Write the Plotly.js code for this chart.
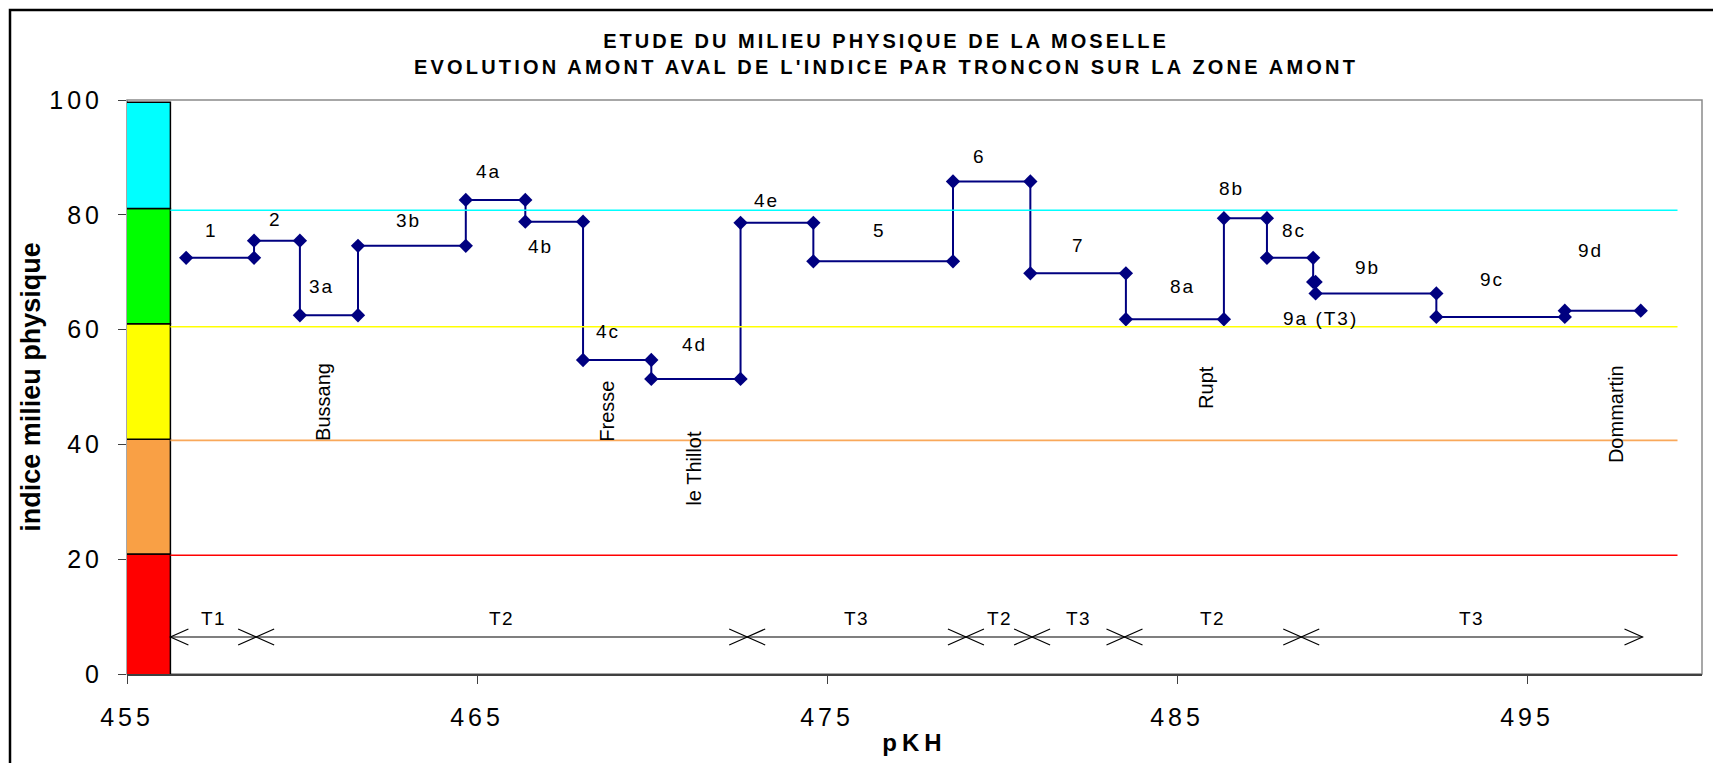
<!DOCTYPE html>
<html><head><meta charset="utf-8">
<script src="https://cdn.plot.ly/plotly-3.0.1.min.js"></script>
<style>html,body{margin:0;padding:0;background:#fff;}#chart{width:1713px;height:763px;}</style>
</head><body><div id="chart"></div>
<script>
// ---------------- DATA ----------------
const reaches = ['1','2','3a','3b','4a','4b','4c','4d','4e','5','6','7','8a','8b','8c','9a (T3)','9b','9c','9d'];
const pkStart = [456.69, 458.63, 459.94, 461.60, 464.68, 466.38, 468.03, 469.98, 472.53, 474.61, 478.60, 480.81, 483.54, 486.34, 487.57, 488.89, 488.96, 492.41, 496.08];
const pkEnd   = [458.63, 459.94, 461.60, 464.68, 466.38, 468.03, 469.98, 472.53, 474.61, 478.60, 480.81, 483.54, 486.34, 487.57, 488.89, 488.96, 492.41, 496.08, 498.25];
const indice  = [72.5, 75.5, 62.5, 74.6, 82.6, 78.8, 54.7, 51.4, 78.6, 71.9, 85.8, 69.8, 61.8, 79.4, 72.5, 68.3, 66.3, 62.2, 63.3];

const towns  = ['Bussang','Fresse','le Thillot','Rupt','Dommartin'];
const townPk = [460.6, 468.73, 471.19, 485.81, 497.53];

const troncons    = ['T1','T2','T3','T2','T3','T2','T3'];
const troncBounds = [456.24, 458.69, 472.72, 478.97, 480.86, 483.50, 488.55, 498.30];

const classLow  = [-0.9, 20.9, 40.9, 61.0, 81.1];
const classHigh = [20.9, 40.9, 61.0, 81.1, 99.6];
const classColors = ['#FF0000','#F9A045','#FFFF00','#00FF00','#00FFFF'];

const thresholdLevels = [80.8, 60.5, 40.7, 20.7];
const thresholdColors = ['#00FFFF','#FFFF00','#F9A85A','#FF0000'];

const xTicks = [455, 465, 475, 485, 495];
const yTicks = [0, 20, 40, 60, 80, 100];

// ---------------- STYLE / LAYOUT ----------------
const FONT = 'Liberation Sans, Arial, sans-serif';
const W = 1713, H = 763;
const M = {l:127, r:11, t:100, b:89};
const plotW = W - M.l - M.r, plotH = H - M.t - M.b;
const pxX = px => (px - M.l) / plotW;          // pixel -> paper
const pxY = py => (H - M.b - py) / plotH;
const ls = (t, s) => `<span style="letter-spacing:${s}px">${t}</span>`;

// label offsets (px) relative to the reach mid-point / value
const labelDx = [-9,-1,-7,-3,-7,-14,-9,-1,-10,-4,-12,0,8,-14,4,6,-8,-9,-12];
const labelDy = [27,21,29,25,28,-25,29,34,22,31,25,28,33,30,27,-37,26,37,60];
const townLabelY = [47.4, 45.8, 35.9, 49.9, 45.2];
const barX0 = 454.93, barX1 = 456.24;
const lineX0 = 456.24, lineX1 = 499.3;
const arrowY = 6.45;

// ---------------- TRACES ----------------
const traces = [];

// colour scale bar
traces.push({
  type:'bar',
  x: classLow.map(() => (barX0 + barX1) / 2),
  y: classLow.map((lo, i) => classHigh[i] - lo),
  base: classLow,
  width: classLow.map(() => barX1 - barX0),
  marker:{color: classColors, line:{color:'#000', width:1.5}},
  cliponaxis:false, hoverinfo:'skip', showlegend:false
});

// step line
const sx = [], sy = [];
reaches.forEach((r, i) => { sx.push(pkStart[i], pkEnd[i]); sy.push(indice[i], indice[i]); });
traces.push({
  type:'scatter', mode:'lines+markers', x:sx, y:sy,
  line:{color:'#000080', width:2},
  marker:{symbol:'diamond', size:11, color:'#000080'},
  hoverinfo:'skip', showlegend:false
});

// threshold lines
thresholdLevels.forEach((lv, i) => {
  traces.push({type:'scatter', mode:'lines', x:[lineX0, lineX1], y:[lv, lv],
    line:{color: thresholdColors[i], width:1.6}, hoverinfo:'skip', showlegend:false});
});

// troncon line
traces.push({type:'scatter', mode:'lines', x:[troncBounds[0], troncBounds[troncBounds.length-1]], y:[arrowY, arrowY],
  line:{color:'#000', width:1.2}, hoverinfo:'skip', showlegend:false});

// ---------------- SHAPES ----------------
const shapes = [];
shapes.push({type:'rect', xref:'paper', yref:'paper', x0:0, x1:1, y0:0, y1:1, layer:'below',
  line:{color:'#8a8a8a', width:1.5}});
shapes.push({type:'path', xref:'paper', yref:'paper',
  path:`M${pxX(10)},${pxY(780)} L${pxX(10)},${pxY(10)} L${pxX(1730)},${pxY(10)}`,
  line:{color:'#000', width:2.5}});
const headLen = 18, headHalf = 8;
function head(x, s){
  return {type:'path', xref:'x', yref:'y', xsizemode:'pixel', ysizemode:'pixel', xanchor:x, yanchor:arrowY,
    path:`M${s*headLen},${headHalf} L0,0 L${s*headLen},${-headHalf}`, line:{color:'#000', width:1.2}};
}
troncBounds.forEach((b, i) => {
  if (i > 0) shapes.push(head(b, -1));
  if (i < troncBounds.length - 1) shapes.push(head(b, 1));
});

// ---------------- ANNOTATIONS ----------------
const annotations = [];
reaches.forEach((r, i) => {
  annotations.push({x:(pkStart[i]+pkEnd[i])/2, y:indice[i], xref:'x', yref:'y', text:ls(r,2), showarrow:false,
    xshift:labelDx[i], yshift:labelDy[i], font:{family:FONT, size:19, color:'#000'}});
});
towns.forEach((t, i) => {
  annotations.push({x:townPk[i], y:townLabelY[i], xref:'x', yref:'y', text:t, textangle:-90, showarrow:false,
    font:{family:FONT, size:20, color:'#000'}});
});
troncons.forEach((t, i) => {
  annotations.push({x:(troncBounds[i]+troncBounds[i+1])/2, y:arrowY, xref:'x', yref:'y', text:ls(t,1.5), showarrow:false,
    yanchor:'bottom', yshift:6, font:{family:FONT, size:19, color:'#000'}});
});

const layout = {
  width:W, height:H, margin:M, paper_bgcolor:'#fff', plot_bgcolor:'#fff',
  showlegend:false, hovermode:false, barmode:'overlay',
  font:{family:FONT, color:'#000'},
  title:{
    text:'<b>' + ls('ETUDE DU MILIEU PHYSIQUE DE LA MOSELLE',3) + '<br>' +
         ls("EVOLUTION AMONT AVAL DE L'INDICE PAR TRONCON SUR LA ZONE AMONT",3.2) + '</b>',
    font:{family:FONT, size:20, color:'#000'}, x:886/W, xanchor:'center', y:1-48/H, yanchor:'top'
  },
  xaxis:{
    range:[455, 500], tickvals:xTicks, ticktext:xTicks.map(v => ls(v,4)),
    ticks:'outside', ticklen:8, tickcolor:'#404040', showgrid:false, zeroline:false,
    showline:true, linecolor:'#404040', linewidth:1.5, ticklabelstandoff:12,
    tickfont:{family:FONT, size:25, color:'#000'},
    title:{text:'<b>' + ls('pKH',5) + '</b>', font:{family:FONT, size:24, color:'#000'}, standoff:4}
  },
  yaxis:{
    range:[0, 100], tickvals:yTicks, ticktext:yTicks.map(v => ls(v,4)),
    ticks:'outside', ticklen:8, tickcolor:'#404040', showgrid:false, zeroline:false,
    showline:false, ticklabelstandoff:10,
    tickfont:{family:FONT, size:25, color:'#000'},
    title:{text:'<b>indice milieu physique</b>', font:{family:FONT, size:27, color:'#000'}, standoff:0}
  },
  shapes, annotations
};

Plotly.newPlot('chart', traces, layout, {staticPlot:true, displayModeBar:false});
</script></body></html>
